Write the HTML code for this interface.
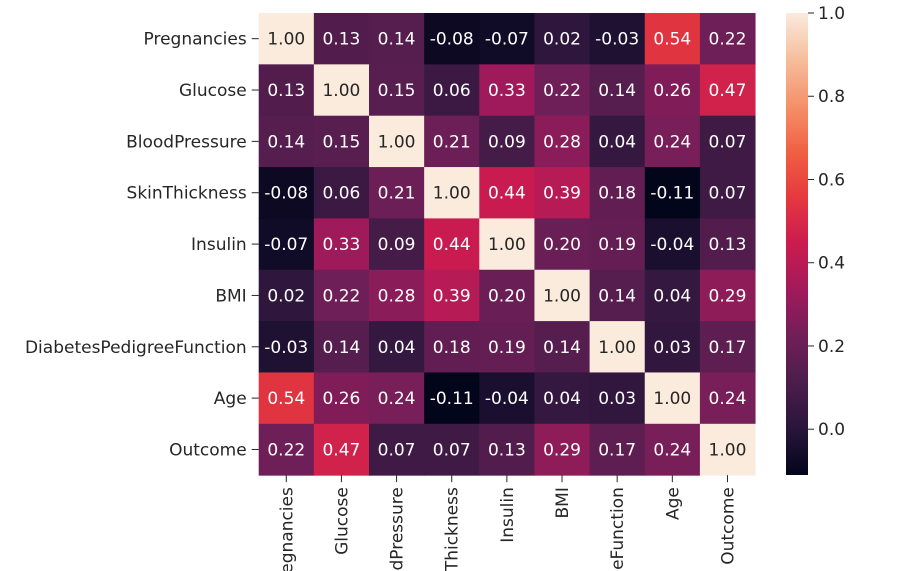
<!DOCTYPE html>
<html><head><meta charset="utf-8"><style>
html,body{margin:0;padding:0;background:#fff;overflow:hidden;}
svg{display:block;font-family:"DejaVu Sans","Liberation Sans",sans-serif;}
</style></head><body>
<svg id="chart" width="899" height="571" viewBox="0 0 899 571" xmlns="http://www.w3.org/2000/svg">
<defs><linearGradient id="cbgrad" x1="0" y1="1" x2="0" y2="0"></linearGradient></defs>
<g id="cells"></g><g id="ylabels"></g><g id="xlabels"></g><g id="cbar"></g>
</svg>
<script>
const labels = ["Pregnancies","Glucose","BloodPressure","SkinThickness","Insulin","BMI","DiabetesPedigreeFunction","Age","Outcome"];
const row0 = [1.00,0.13,0.14,-0.08,-0.07,0.02,-0.03,0.54,0.22];
const row1 = [0.13,1.00,0.15,0.06,0.33,0.22,0.14,0.26,0.47];
const row2 = [0.14,0.15,1.00,0.21,0.09,0.28,0.04,0.24,0.07];
const row3 = [-0.08,0.06,0.21,1.00,0.44,0.39,0.18,-0.11,0.07];
const row4 = [-0.07,0.33,0.09,0.44,1.00,0.20,0.19,-0.04,0.13];
const row5 = [0.02,0.22,0.28,0.39,0.20,1.00,0.14,0.04,0.29];
const row6 = [-0.03,0.14,0.04,0.18,0.19,0.14,1.00,0.03,0.17];
const row7 = [0.54,0.26,0.24,-0.11,-0.04,0.04,0.03,1.00,0.24];
const row8 = [0.22,0.47,0.07,0.07,0.13,0.29,0.17,0.24,1.00];
const matrix = [row0,row1,row2,row3,row4,row5,row6,row7,row8];
const cbTicks = [0.0,0.2,0.4,0.6,0.8,1.0];
const vmin = -0.11, vmax = 1.0;

const NS="http://www.w3.org/2000/svg";
const gx0=258.7, gy0=13, cw=55.15, ch=51.35;
const cbx=786, cbw=22, cbTop=13, cbBot=475;
const stops=[[0,"#03051a"],[0.1,"#28153a"],[0.2,"#4c1d4b"],[0.3,"#701f57"],[0.4,"#a11a5b"],[0.5,"#cb1b4f"],[0.6,"#e5383f"],[0.7,"#f06043"],[0.8,"#f5916a"],[0.9,"#f6bd9c"],[1,"#faebdd"]];
function hex(h){return [1,3,5].map(i=>parseInt(h.substr(i,2),16));}
function cmap(v){let t=(v-vmin)/(vmax-vmin);t=Math.max(0,Math.min(1,t));
 for(let i=1;i<stops.length;i++){if(t<=stops[i][0]){const a=stops[i-1],b=stops[i];const f=(t-a[0])/(b[0]-a[0]);const ca=hex(a[1]),cb=hex(b[1]);return {rgb:`rgb(${ca.map((c,k)=>Math.round(c+(cb[k]-c)*f)).join(",")})`,t:t};}}
 return {rgb:stops[stops.length-1][1],t:1};}
function xPos(j){return gx0+j*cw;}
function yPos(i){return gy0+i*ch;}
function cbY(v){return cbBot-(v-vmin)/(vmax-vmin)*(cbBot-cbTop);}
function el(tag,attrs,parent){const e=document.createElementNS(NS,tag);for(const k in attrs)e.setAttribute(k,attrs[k]);parent.appendChild(e);return e;}

const cells=document.getElementById("cells");
matrix.forEach((row,i)=>{row.forEach((v,j)=>{
 const c=cmap(v);
 const r=el("rect",{x:xPos(j),y:yPos(i),width:cw+0.5,height:ch+0.5,fill:c.rgb},cells);
 
 
 const t=el("text",{x:xPos(j)+cw/2,y:yPos(i)+ch/2+6,"text-anchor":"middle","font-size":"17",fill:c.t>0.6?"#262626":"#ffffff"},cells);
 t.textContent=v.toFixed(2);
 
 
});});

const yl=document.getElementById("ylabels");
labels.forEach((l,i)=>{
 const cy=yPos(i)+ch/2;
 el("line",{x1:gx0-7,x2:gx0,y1:cy,y2:cy,stroke:"#262626","stroke-width":1},yl);
 const t=el("text",{x:gx0-12,y:cy+6,"text-anchor":"end","font-size":"17",fill:"#262626"},yl);
 t.textContent=l;
 
 
});
const xl=document.getElementById("xlabels");
const gBot=yPos(9);
labels.forEach((l,j)=>{
 const cx=xPos(j)+cw/2;
 el("line",{x1:cx,x2:cx,y1:gBot,y2:gBot+7,stroke:"#262626","stroke-width":1},xl);
 const t=el("text",{x:0,y:0,"text-anchor":"end","font-size":"17",fill:"#262626",transform:`translate(${cx+6},${gBot+12}) rotate(-90)`},xl);
 t.textContent=l;
 
 
});

const grad=document.getElementById("cbgrad");
stops.forEach(s=>el("stop",{offset:s[0],"stop-color":s[1]},grad));
const cb=document.getElementById("cbar");
const cr=el("rect",{x:cbx,y:cbTop,width:cbw,height:cbBot-cbTop,fill:"url(#cbgrad)"},cb);


cbTicks.forEach(v=>{
 const y=cbY(v);
 el("line",{x1:cbx+cbw,x2:cbx+cbw+6,y1:y,y2:y,stroke:"#262626","stroke-width":1},cb);
 const t=el("text",{x:cbx+cbw+10,y:y+6,"font-size":"17",fill:"#262626"},cb);
 t.textContent=v.toFixed(1);
 
 
});
</script>
</body></html>
